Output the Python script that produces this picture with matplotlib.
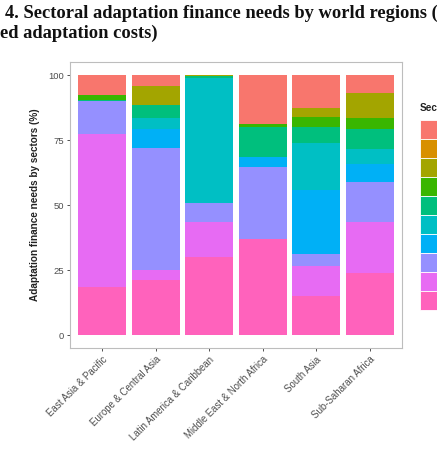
import matplotlib

matplotlib.use("Agg")
import matplotlib.pyplot as plt
from matplotlib.patches import Patch
import numpy as np

plt.rcParams["font.family"] = ["Liberation Sans", "DejaVu Sans"]

regions = [
    "East Asia & Pacific",
    "Europe & Central Asia",
    "Latin America & Caribbean",
    "Middle East & North Africa",
    "South Asia",
    "Sub-Saharan Africa",
]

# legend order (top of the stack first), ggplot hue palette
sectors = [
    "Agriculture", "Biodiversity", "Coastal zones", "Disaster risk",
    "Fisheries", "Forestry", "Health", "Infrastructure", "Urban", "Water",
]
colors = [
    "#F8766D", "#D89000", "#A3A500", "#39B600", "#00BF7D",
    "#00BFC4", "#00B0F6", "#9590FF", "#E76BF3", "#FF62BC",
]

# share of adaptation costs (%), one list per sector, regions in order above
agriculture = [7.5, 4.3, 0.0, 18.7, 12.6, 6.9]
biodiversity = [0.0, 0.0, 0.0, 0.0, 0.0, 0.0]
coastal = [0.0, 7.3, 0.3, 0.0, 3.5, 9.5]
disaster = [2.0, 0.0, 0.0, 1.3, 3.9, 4.5]
fisheries = [0.5, 4.8, 0.7, 11.7, 6.3, 7.6]
forestry = [0.0, 4.5, 48.2, 0.0, 17.9, 5.9]
health = [0.0, 7.0, 0.0, 3.8, 24.5, 6.7]
infrastructure = [12.5, 47.2, 7.4, 27.7, 4.7, 15.5]
urban = [58.9, 3.8, 13.4, 0.0, 11.5, 19.5]
water = [18.6, 21.1, 30.0, 36.8, 15.1, 23.9]

shares = [agriculture, biodiversity, coastal, disaster, fisheries,
          forestry, health, infrastructure, urban, water]

W, H = 437, 461
fig = plt.figure(figsize=(W / 100, H / 100), dpi=100)
ax = fig.add_axes([70 / W, 1 - 348 / H, 332 / W, 286 / H])

x = np.arange(1, len(regions) + 1)
bottom = np.zeros(len(regions))
# ggplot stacks the last factor level at the bottom
for name, col, vals in zip(sectors[::-1], colors[::-1], shares[::-1]):
    vals = np.array(vals)
    ax.bar(x, vals, bottom=bottom, width=0.9, color=col, linewidth=0)
    bottom += vals

ax.set_xlim(0.4, 6.6)
ax.set_ylim(-5, 105)
ax.set_yticks([0, 25, 50, 75, 100])
ax.set_xticks(x)
ax.set_xticklabels(regions, rotation=45, ha="right", va="top",
                   rotation_mode="anchor", fontsize=6.9, color="#4D4D4D")
ax.tick_params(axis="y", labelsize=6.8, labelcolor="#4D4D4D")
ax.tick_params(length=2.5, width=0.6, color="#333333", pad=2)
for s in ax.spines.values():
    s.set_color("#BDBDBD")
    s.set_linewidth(0.8)
ax.set_ylabel("Adaptation finance needs by sectors (%)", fontsize=7.2,
              fontweight="bold", color="#222222", labelpad=6)

# legend title drawn separately so the gap above the keys matches ggplot
fig.text(420 / W, 1 - 108 / H, "Sector", fontsize=7.2, fontweight="bold",
         color="#222222", ha="left", va="center")
handles = [Patch(facecolor=c, edgecolor="white", linewidth=0.6) for c in colors]
fig.legend(handles, sectors, loc="upper left",
           bbox_to_anchor=(420 / W, 1 - 120 / H), frameon=False,
           fontsize=7, handlelength=1.9, handleheight=2.63,
           labelspacing=0.0, borderpad=0, borderaxespad=0, handletextpad=0.6)

fig.text(5 / W, 1 - 13 / H,
         "4. Sectoral adaptation finance needs by world regions (",
         family=["Liberation Serif", "DejaVu Serif"], fontweight="bold",
         fontsize=13.3, va="center", ha="left", color="#111111")
fig.text(0 / W, 1 - 33 / H, "ed adaptation costs)",
         family=["Liberation Serif", "DejaVu Serif"], fontweight="bold",
         fontsize=13.3, va="center", ha="left", color="#111111")

fig.savefig("out.png", dpi=100)
